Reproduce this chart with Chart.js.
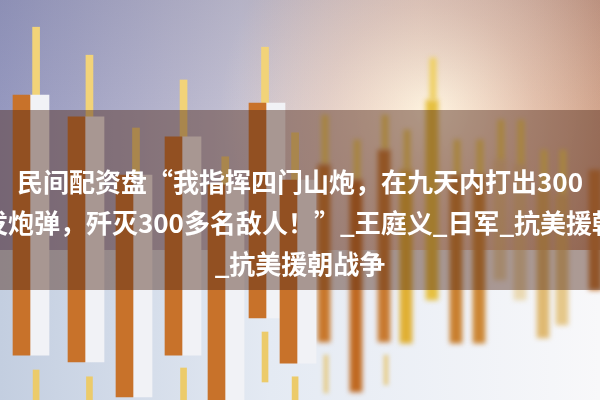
<!DOCTYPE html>
<html>
<head>
<meta charset="utf-8">
<script src="https://cdn.jsdelivr.net/npm/chart.js@4"></script>
<style>
  html, body { margin: 0; padding: 0; overflow: hidden; background: #fff; }
  #wrap { position: relative; width: 600px; height: 400px; }
  #band {
    position: absolute; left: 0; top: 110px; width: 600px; height: 180px;
    background: rgba(80, 40, 25, 0.45); overflow: hidden;
  }
  #band .lines { position: absolute; left: 0; top: 50px; width: 600px; }
  #band .line {
    display: flex; justify-content: center; white-space: nowrap;
    height: 41px; line-height: 41px;
    font-family: "Noto Sans CJK SC", "Noto Sans", sans-serif;
    font-weight: bold; font-size: 26px; color: #fff;
  }
</style>
</head>
<body>
<div id="wrap">
  <canvas id="chart"></canvas>
  <div id="band">
    <div class="lines">
      <div class="line"><span>民间配资盘“我指挥四门山炮，在九天内打出300</span></div>
      <div class="line"><span>发炮弹，歼灭300多名敌人！”_王庭义_日军_抗美援朝</span></div>
      <div class="line"><span>_抗美援朝战争</span></div>
    </div>
  </div>
</div>
<script>
// sharp candles on the left
const leftX = [3.0, 8.5, 13.3, 18.2, 22.5, 26.6, 29.7];
const leftHigh = [93.2, 86.2, 68.0, 80.0, 60.8, 88.2, 66.8];
const leftTop = [76.2, 70.8, 56.2, 65.8, 53.8, 74.2, 55.0];
const leftBottom = [11.2, 9.5, 0.8, 11.2, -1.2, 20.5, 9.2];
const leftLowTop = [7.5, 5.8, null, 8.0, null, 17.0, 5.8];
const leftLow = [-1.2, -1.2, null, -1.2, null, 4.5, -1.2];

// blurred candles on the right
const rightX = [32.4, 35.6, 38.4, 40.6, 43.2, 45.6, 47.9, 50.0, 52.0, 54.3, 56.2, 59.5];
const rightHigh = [71.2, 65.0, 71.2, 67.5, 85.5, 65.0, 65.0, 70.0, 70.0, 62.5, 62.5, null];
const rightTop = [58.8, 55.0, 62.5, 57.5, 75.0, 56.2, 56.2, 60.0, 58.8, 52.5, 51.2, 57.5];
const rightBottom = [14.5, 2.0, 14.5, 14.2, 25.0, 14.2, 14.2, 30.0, 25.0, 15.5, 18.8, 27.5];
const rightLowTop = [11.2, null, 11.2, null, null, null, null, null, null, null, null, null];
const rightLow = [1.8, null, 3.8, null, null, null, null, null, null, null, null, null];

const rightColors = ['#c8782c', '#c06a22', '#c87a30', '#e0b034', '#e6c040', '#c98030', '#cc8634',
                     'rgba(225,190,110,0.5)', 'rgba(225,190,110,0.5)', 'rgba(218,170,80,0.8)',
                     'rgba(222,180,90,0.7)', '#c87a36'];

function pts(xs, lo, hi, shift) {
    return xs.map((x, i) => ({
        x: x + (typeof shift === 'function' ? shift(x) : shift),
        y: (lo[i] === null || hi[i] === null) ? null : [lo[i], hi[i]]
    }));
}

// wick sits a little right of the face edge, less so further right (perspective)
const wickShift = x => 0.7 - 0.03 * x;

const background = {
    id: 'background',
    beforeDraw(chart) {
        const ctx = chart.ctx;
        const w = chart.width, h = chart.height;
        ctx.save();
        let g = ctx.createLinearGradient(0, 0, w, 0);
        g.addColorStop(0, '#9598bf');
        g.addColorStop(0.4, '#c3c0d2');
        g.addColorStop(0.7, '#e2c2b4');
        g.addColorStop(1, '#c9987f');
        ctx.fillStyle = g;
        ctx.fillRect(0, 0, w, h);

        let r = ctx.createRadialGradient(430, 110, 0, 430, 110, 210);
        r.addColorStop(0, 'rgba(255,246,226,0.95)');
        r.addColorStop(0.5, 'rgba(250,226,206,0.45)');
        r.addColorStop(1, 'rgba(250,226,206,0)');
        ctx.fillStyle = r;
        ctx.fillRect(0, 0, w, h);

        let t = ctx.createLinearGradient(0, 0, 0, 110);
        t.addColorStop(0, 'rgba(80,80,110,0.12)');
        t.addColorStop(1, 'rgba(80,80,110,0)');
        ctx.fillStyle = t;
        ctx.fillRect(0, 0, w, 110);

        let b = ctx.createLinearGradient(0, 0, w, 0);
        b.addColorStop(0, '#c3cee0');
        b.addColorStop(0.45, '#e4eaf3');
        b.addColorStop(1, '#f8f8fa');
        ctx.fillStyle = b;
        ctx.fillRect(0, 250, w, h - 250);
        ctx.restore();
    }
};

const blur = {
    id: 'blur',
    beforeDatasetDraw(chart, args) {
        const px = chart.data.datasets[args.index].blur;
        if (px) {
            chart.ctx.save();
            chart.ctx.filter = `blur(${px}px)`;
        }
    },
    afterDatasetDraw(chart, args) {
        if (chart.data.datasets[args.index].blur) chart.ctx.restore();
    }
};

new Chart(document.getElementById('chart'), {
    type: 'bar',
    data: {
        datasets: [
            {
                label: 'orange face',
                data: pts(leftX, leftBottom, leftTop, -0.85),
                backgroundColor: '#c8722a',
                barThickness: 17,
                blur: 0.6,
                order: 1
            },
            {
                label: 'white face',
                data: pts(leftX, leftBottom, leftTop, 0.95),
                backgroundColor: '#f1f2f6',
                barThickness: 19,
                blur: 0.6,
                order: 2
            },
            {
                label: 'upper wick',
                data: pts(leftX, leftTop, leftHigh, wickShift),
                backgroundColor: '#f2d378',
                barThickness: 7,
                blur: 0.6,
                order: 3
            },
            {
                label: 'lower wick',
                data: pts(leftX, leftLow, leftLowTop, wickShift),
                backgroundColor: '#eccb6a',
                barThickness: 6,
                blur: 0.6,
                order: 3
            },
            {
                label: 'right body',
                data: pts(rightX, rightBottom, rightTop, 0),
                backgroundColor: rightColors,
                barThickness: 12,
                blur: 2.5,
                order: 4
            },
            {
                label: 'right wick',
                data: pts(rightX, rightTop, rightHigh, 0.1),
                backgroundColor: '#efd060',
                barThickness: 6,
                blur: 2.5,
                order: 5
            },
            {
                label: 'right lower wick',
                data: pts(rightX, rightLow, rightLowTop, 0.2),
                backgroundColor: 'rgba(230,190,90,0.7)',
                barThickness: 4,
                blur: 2,
                order: 5
            }
        ]
    },
    options: {
        responsive: true,
        maintainAspectRatio: false,
        animation: false,
        grouped: false,
        layout: { padding: 0 },
        plugins: {
            legend: { display: false },
            tooltip: { enabled: false }
        },
        scales: {
            x: { type: 'linear', min: 0, max: 60, offset: false, display: false },
            y: { min: 0, max: 100, display: false }
        }
    },
    plugins: [background, blur]
});
</script>
</body>
</html>
